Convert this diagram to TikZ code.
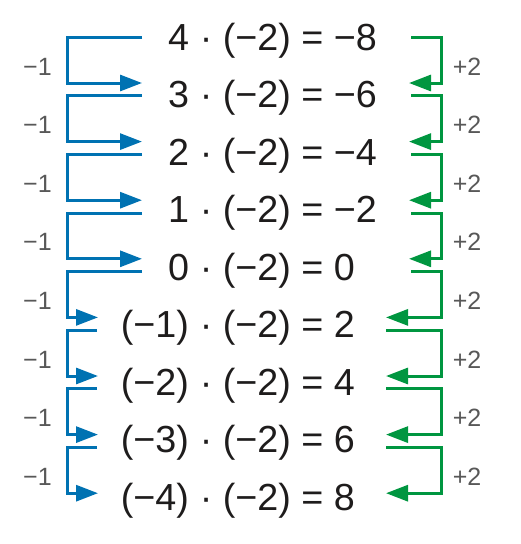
\documentclass[tikz,border=0pt]{standalone}
\usepackage{fontspec}
\setmainfont{Liberation Sans}
\usetikzlibrary{arrows.meta,calc,positioning}

\definecolor{mblue}{RGB}{0,114,178}
\definecolor{mgreen}{RGB}{0,150,64}
\definecolor{mgray}{RGB}{88,88,88}
\definecolor{mtext}{RGB}{30,28,28}

\begin{document}
\begin{tikzpicture}[x=1pt, y=-1pt,
  eq/.style={inner sep=0pt, text=mtext, font=\fontsize{37.7pt}{40pt}\selectfont},
  lab/.style={inner sep=0pt, anchor=base, text=mgray, font=\fontsize{25pt}{28pt}\selectfont},
  down/.style={draw=mblue, line width=3pt, -{Triangle[length=22pt,width=16pt]}},
  up/.style={draw=mgreen, line width=3pt, -{Triangle[length=22pt,width=16pt]}}]

  \useasboundingbox (0,0) rectangle (520,544);

  % left factors and the rest of each product
  \node [eq, anchor=base east] (f1) at (189.2,50.5) {4};
  \node [eq, anchor=base east] (f2) at (189.2,107.95) {3};
  \node [eq, anchor=base east] (f3) at (189.2,165.4) {2};
  \node [eq, anchor=base east] (f4) at (189.2,222.85) {1};
  \node [eq, anchor=base east] (f5) at (189.2,280.3) {0};
  \node [eq, anchor=base east] (f6) at (189.2,337.75) {(−1)};
  \node [eq, anchor=base east] (f7) at (189.2,395.2) {(−2)};
  \node [eq, anchor=base east] (f8) at (189.2,452.65) {(−3)};
  \node [eq, anchor=base east] (f9) at (189.2,510.1) {(−4)};

  \node [eq, anchor=base west] (p1) at (f1.base east) {\ · (−2) = −8};
  \node [eq, anchor=base west] (p2) at (f2.base east) {\ · (−2) = −6};
  \node [eq, anchor=base west] (p3) at (f3.base east) {\ · (−2) = −4};
  \node [eq, anchor=base west] (p4) at (f4.base east) {\ · (−2) = −2};
  \node [eq, anchor=base west] (p5) at (f5.base east) {\ · (−2) = 0};
  \node [eq, anchor=base west] (p6) at (f6.base east) {\ · (−2) = 2};
  \node [eq, anchor=base west] (p7) at (f7.base east) {\ · (−2) = 4};
  \node [eq, anchor=base west] (p8) at (f8.base east) {\ · (−2) = 6};
  \node [eq, anchor=base west] (p9) at (f9.base east) {\ · (−2) = 8};

  % bracket ends
  \coordinate (bx) at (67,0);
  \coordinate (gx) at (441,0);

  \coordinate (bo1) at (142,37.2);   \coordinate (bi2) at (142,83);
  \coordinate (bo2) at (142,95.8);   \coordinate (bi3) at (142,141.6);
  \coordinate (bo3) at (142,154.4);  \coordinate (bi4) at (142,200.2);
  \coordinate (bo4) at (142,213);    \coordinate (bi5) at (142,258.8);
  \coordinate (bo5) at (142,271.6);  \coordinate (bi6) at (98,317.4);
  \coordinate (bo6) at (97,330.2);   \coordinate (bi7) at (98,376);
  \coordinate (bo7) at (97,388.8);   \coordinate (bi8) at (98,434.6);
  \coordinate (bo8) at (97,447.4);   \coordinate (bi9) at (98,493.2);

  \coordinate (go1) at (411,37.2);   \coordinate (gi2) at (409,83);
  \coordinate (go2) at (411,95.8);   \coordinate (gi3) at (409,141.6);
  \coordinate (go3) at (411,154.4);  \coordinate (gi4) at (409,200.2);
  \coordinate (go4) at (411,213);    \coordinate (gi5) at (409,258.8);
  \coordinate (go5) at (411,271.6);  \coordinate (gi6) at (386,317.4);
  \coordinate (go6) at (386,330.2);  \coordinate (gi7) at (386,376);
  \coordinate (go7) at (386,388.8);  \coordinate (gi8) at (386,434.6);
  \coordinate (go8) at (386,447.4);  \coordinate (gi9) at (386,493.2);

  % left brackets
  \draw [down] (bo1) -- (bo1 -| bx) |- (bi2) ;
  \draw [down] (bo2) -- (bo2 -| bx) |- (bi3) ;
  \draw [down] (bo3) -- (bo3 -| bx) |- (bi4) ;
  \draw [down] (bo4) -- (bo4 -| bx) |- (bi5) ;
  \draw [down] (bo5) -- (bo5 -| bx) |- (bi6) ;
  \draw [down] (bo6) -- (bo6 -| bx) |- (bi7) ;
  \draw [down] (bo7) -- (bo7 -| bx) |- (bi8) ;
  \draw [down] (bo8) -- (bo8 -| bx) |- (bi9) ;

  % right brackets
  \draw [up] (go1) -- (go1 -| gx) |- (gi2) ;
  \draw [up] (go2) -- (go2 -| gx) |- (gi3) ;
  \draw [up] (go3) -- (go3 -| gx) |- (gi4) ;
  \draw [up] (go4) -- (go4 -| gx) |- (gi5) ;
  \draw [up] (go5) -- (go5 -| gx) |- (gi6) ;
  \draw [up] (go6) -- (go6 -| gx) |- (gi7) ;
  \draw [up] (go7) -- (go7 -| gx) |- (gi8) ;
  \draw [up] (go8) -- (go8 -| gx) |- (gi9) ;

  % step labels
  \node [lab] (m1) at (37.5,75) {−1};
  \node [lab] (m2) at (37.5,133.6) {−1};
  \node [lab] (m3) at (37.5,192.2) {−1};
  \node [lab] (m4) at (37.5,250.8) {−1};
  \node [lab] (m5) at (37.5,309.4) {−1};
  \node [lab] (m6) at (37.5,368) {−1};
  \node [lab] (m7) at (37.5,426.6) {−1};
  \node [lab] (m8) at (37.5,485.2) {−1};

  \node [lab] (s1) at (467,75) {+2};
  \node [lab] (s2) at (467,133.6) {+2};
  \node [lab] (s3) at (467,192.2) {+2};
  \node [lab] (s4) at (467,250.8) {+2};
  \node [lab] (s5) at (467,309.4) {+2};
  \node [lab] (s6) at (467,368) {+2};
  \node [lab] (s7) at (467,426.6) {+2};
  \node [lab] (s8) at (467,485.2) {+2};

\end{tikzpicture}
\end{document}
